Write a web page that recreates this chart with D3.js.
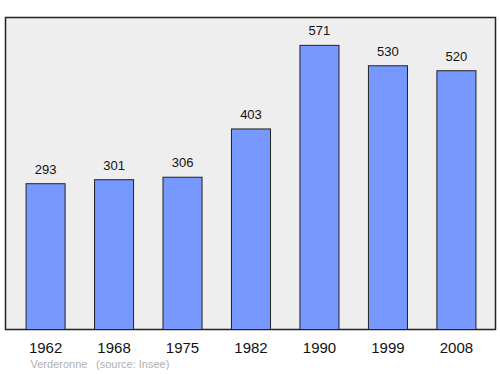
<!DOCTYPE html>
<html>
<head>
<meta charset="utf-8">
<script src="https://cdn.jsdelivr.net/npm/d3@7"></script>
<style>
  body { margin: 0; background: #fff; }
  text { font-family: "Liberation Sans", Arial, sans-serif; }
</style>
</head>
<body>
<div id="graph"></div>
<script>
var years = ["1962", "1968", "1975", "1982", "1990", "1999", "2008"];
var population = [293, 301, 306, 403, 571, 530, 520];

var svgWidth = 500;
var svgHeight = 374;

var plot = { left: 5.5, top: 17.5, right: 495.5, bottom: 329.5 };

var svg = d3.select("#graph")
  .append("svg")
  .attr("width", svgWidth)
  .attr("height", svgHeight);

// x band scale, bars ~39px wide on a ~68px step
var x = d3.scaleBand()
  .domain(years)
  .range([11, 491])
  .paddingInner(0.43)
  .paddingOuter(0.22);

var y = d3.scaleLinear()
  .domain([0, 627])
  .range([plot.bottom, plot.top]);

svg.append("rect")
  .attr("x", plot.left)
  .attr("y", plot.top)
  .attr("width", plot.right - plot.left)
  .attr("height", plot.bottom - plot.top)
  .attr("fill", "#eeeeee")
  .attr("stroke", "#222")
  .attr("stroke-width", 1.5);

svg.selectAll("rect.bar")
  .data(population)
  .enter()
  .append("rect")
  .attr("class", "bar")
  .attr("x", (d, i) => x(years[i]))
  .attr("y", d => y(d))
  .attr("width", x.bandwidth())
  .attr("height", d => y(0) - y(d))
  .attr("fill", "#7799ff")
  .attr("stroke", "#222")
  .attr("stroke-width", 1);

svg.selectAll("text.value")
  .data(population)
  .enter()
  .append("text")
  .attr("class", "value")
  .attr("x", (d, i) => x(years[i]) + x.bandwidth() / 2)
  .attr("y", d => y(d) - 10)
  .attr("text-anchor", "middle")
  .attr("font-size", "13px")
  .attr("fill", "#111")
  .text(d => d);

var xAxis = d3.axisBottom(x).tickSize(0).tickPadding(0);
var axisG = svg.append("g")
  .attr("transform", `translate(0, ${plot.bottom})`)
  .call(xAxis);
axisG.select(".domain").remove();
axisG.selectAll("text")
  .attr("dy", null)
  .attr("y", 23.5)
  .attr("font-size", "15px")
  .attr("font-family", "Liberation Sans, Arial, sans-serif")
  .attr("fill", "#111");

svg.append("text")
  .attr("x", 30.5)
  .attr("y", 368)
  .attr("font-size", "11px")
  .attr("fill", "#b0b0b0")
  .text("Verderonne");

svg.append("text")
  .attr("x", 96)
  .attr("y", 368)
  .attr("font-size", "11px")
  .attr("fill", "#b0b0b0")
  .text("(source: Insee)");
</script>
</body>
</html>
